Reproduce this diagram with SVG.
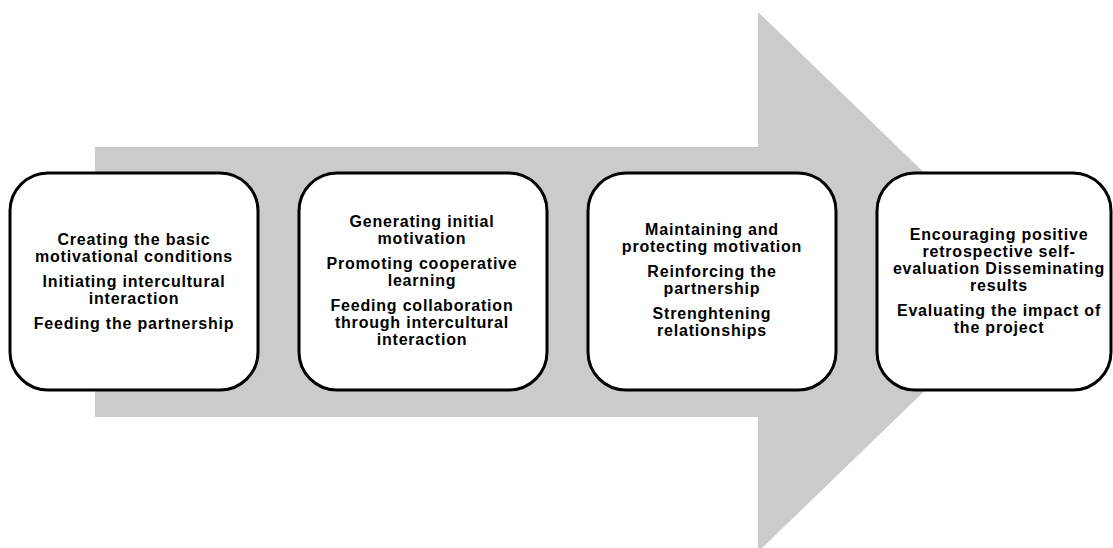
<svg xmlns="http://www.w3.org/2000/svg" width="1113" height="548" viewBox="0 0 1113 548">
<style>
.box{fill:#ffffff;stroke:#000000;stroke-width:3}
.t{font-family:"Liberation Sans",Arial,sans-serif;font-weight:bold;font-size:16px;letter-spacing:0.8px;fill:#000000;text-anchor:middle}
</style>
<rect width="1113" height="548" fill="#ffffff"/>
<g id="arrow">
<polygon points="95,147 758,147 758,12 1037,282 758,552 758,417 95,417" fill="#cbcbcb"/>
</g>
<g id="connectors"></g>
<g id="node1">
<rect class="box" x="10" y="173" width="248" height="217" rx="38" ry="38"/>
<text class="t" x="134" y="245">Creating the basic</text>
<text class="t" x="134" y="262">motivational conditions</text>
<text class="t" x="134" y="287">Initiating  intercultural</text>
<text class="t" x="134" y="304">interaction</text>
<text class="t" x="134" y="329">Feeding the partnership</text>
</g>
<g id="node2">
<rect class="box" x="299" y="173" width="248" height="217" rx="38" ry="38"/>
<text class="t" x="422" y="227">Generating initial</text>
<text class="t" x="422" y="244">motivation</text>
<text class="t" x="422" y="269">Promoting cooperative</text>
<text class="t" x="422" y="286">learning</text>
<text class="t" x="422" y="311">Feeding collaboration</text>
<text class="t" x="422" y="328">through intercultural</text>
<text class="t" x="422" y="345">interaction</text>
</g>
<g id="node3">
<rect class="box" x="588" y="173" width="248" height="217" rx="38" ry="38"/>
<text class="t" x="712" y="235">Maintaining and</text>
<text class="t" x="712" y="252">protecting motivation</text>
<text class="t" x="712" y="277">Reinforcing the</text>
<text class="t" x="712" y="294">partnership</text>
<text class="t" x="712" y="319">Strenghtening</text>
<text class="t" x="712" y="336">relationships</text>
</g>
<g id="node4">
<rect class="box" x="877" y="173" width="234" height="217" rx="38" ry="38"/>
<text class="t" x="999" y="240">Encouraging positive</text>
<text class="t" x="999" y="257">retrospective self-</text>
<text class="t" x="999" y="274">evaluation Disseminating</text>
<text class="t" x="999" y="291">results</text>
<text class="t" x="999" y="316">Evaluating  the impact of</text>
<text class="t" x="999" y="333">the project</text>
</g>
</svg>
